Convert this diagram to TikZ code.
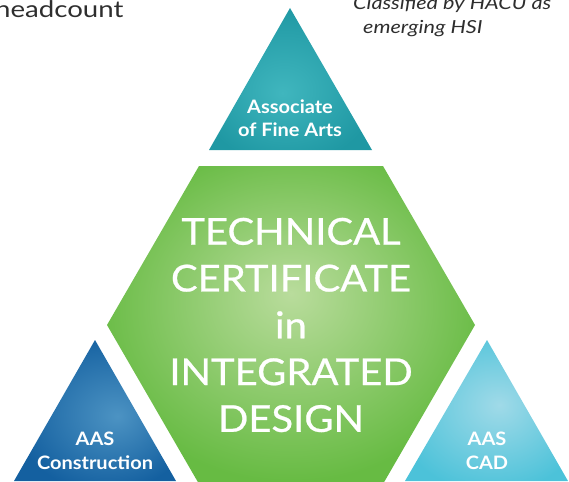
\documentclass[tikz,border=0pt]{standalone}
\usepackage{fontspec}
\setmainfont{Lato}
\newfontfamily\bigfont[FakeStretch=1.08,FakeBold=0.6]{Lato}
\newfontfamily\trifont[FakeStretch=1.08]{Lato}
\newfontfamily\pagefont[FakeStretch=1.2]{Lato}
\usetikzlibrary{positioning}
\definecolor{tealdark}{HTML}{1F98A3}
\definecolor{teallight}{HTML}{40B6BE}
\definecolor{greendark}{HTML}{67BB43}
\definecolor{greenlight}{HTML}{B9DC9C}
\definecolor{bluedark}{HTML}{1460A0}
\definecolor{bluelight}{HTML}{4C93C3}
\definecolor{cyandark}{HTML}{4CC2D9}
\definecolor{cyanlight}{HTML}{A0DAE8}
\definecolor{pagegray}{HTML}{2E2E2E}
\pgfdeclareradialshading{tealglow}{\pgfpoint{-2.5bp}{-5bp}}{color(0bp)=(teallight); color(28bp)=(tealdark); color(50bp)=(tealdark)}
\pgfdeclareradialshading{greenglow}{\pgfpoint{0bp}{5bp}}{color(0bp)=(greenlight); color(27bp)=(greendark); color(50bp)=(greendark)}
\pgfdeclareradialshading{blueglow}{\pgfpoint{7bp}{-2bp}}{color(0bp)=(bluelight); color(28bp)=(bluedark); color(50bp)=(bluedark)}
\pgfdeclareradialshading{cyanglow}{\pgfpoint{4bp}{2bp}}{color(0bp)=(cyanlight); color(30bp)=(cyandark); color(50bp)=(cyandark)}
\begin{document}
\begin{tikzpicture}[x=1pt,y=-1pt,
  tritext/.style = {text=white, align=center, inner sep=0pt, font=\trifont\fontsize{18.5}{23.5}\selectfont\bfseries},
  bigtext/.style = {text=white, align=center, inner sep=0pt, font=\bigfont\fontsize{37}{46.8}\selectfont},
  pagetext/.style = {text=pagegray, inner sep=0pt, anchor=base west},]
\useasboundingbox (0,0) rectangle (569,481);
\clip (0,0) rectangle (569,481);
\shade[shading=tealglow] (290,8) -- (372,150) -- (209,150) -- cycle;
\shade[shading=greenglow] (199,166) -- (383,166) -- (475,325) -- (383,484) -- (199,484) -- (107,325) -- cycle;
\shade[shading=blueglow] (95,340) -- (176,481) -- (14,481) -- cycle;
\shade[shading=cyanglow] (487,340) -- (568,481) -- (405,481) -- cycle;
\node (afa) at (290,118)[tritext] {Associate\\of Fine Arts};
\node (aasc) at (95,451)[tritext] {AAS\\Construction};
\node (aascad) at (487,451)[tritext] {AAS\\CAD};
\node (tcid) at (291,325)[bigtext] {TECHNICAL\\CERTIFICATE\\in\\INTEGRATED\\DESIGN};
\node (head) at (-5,18)[pagetext,font=\pagefont\fontsize{23}{28}\selectfont] {headcount};
\node (hacu) at (353,10)[pagetext,font=\pagefont\fontsize{18}{24}\selectfont\itshape] {Classified by HACU as};
\node (hsi) at (363,34)[pagetext,font=\pagefont\fontsize{18}{24}\selectfont\itshape] {emerging HSI};
\end{tikzpicture}
\end{document}
